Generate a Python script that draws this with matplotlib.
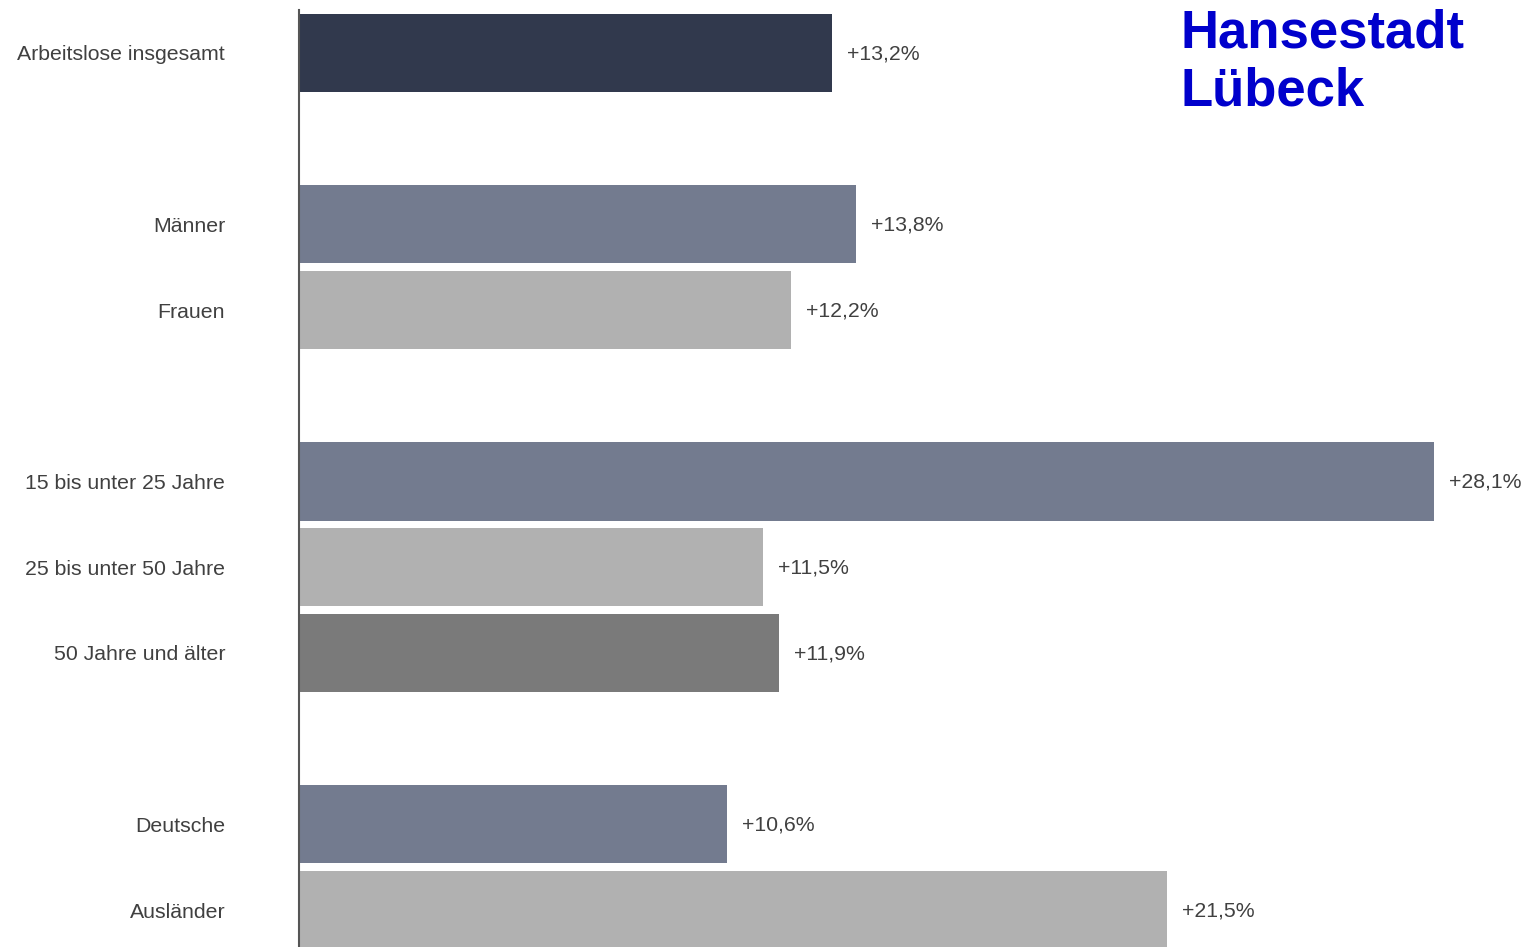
import matplotlib
matplotlib.use("Agg")
import matplotlib.pyplot as plt

categories = ["Arbeitslose insgesamt", "Männer", "Frauen",
              "15 bis unter 25 Jahre", "25 bis unter 50 Jahre", "50 Jahre und älter",
              "Deutsche", "Ausländer"]
values = [13.2, 13.8, 12.2, 28.1, 11.5, 11.9, 10.6, 21.5]
positions = [0, 2, 3, 5, 6, 7, 9, 10]
colors = ["#31394D", "#737B8F", "#B1B1B1", "#737B8F", "#B1B1B1", "#7A7A7A", "#737B8F", "#B1B1B1"]
value_labels = ["+13,2%", "+13,8%", "+12,2%", "+28,1%", "+11,5%", "+11,9%", "+10,6%", "+21,5%"]
title_lines = ["Hansestadt", "Lübeck"]

W, H = 1525, 947
plt.rcParams['font.family'] = ['Liberation Sans', 'DejaVu Sans']
fig = plt.figure(figsize=(W / 100, H / 100), dpi=100)
ax = fig.add_axes([298.7 / W, 0, 1 - 298.7 / W, (H - 10) / H])

ax.barh(positions, values, height=0.91, color=colors, zorder=2)
ax.set_xlim(0, (W - 298.7) / 40.39)
ax.set_ylim(10.43, -0.5)

for p, v, t in zip(positions, values, value_labels):
    ax.annotate(t, xy=(v, p), xytext=(10.8, -0.7), textcoords='offset points',
                ha='left', va='center', fontsize=15.3, color='#404040')

ax.set_yticks(positions)
ax.set_yticklabels(categories, fontsize=15.3, color='#404040')
ax.tick_params(axis='y', length=0, pad=53)
ax.set_xticks([])
for s in ['top', 'right', 'bottom']:
    ax.spines[s].set_visible(False)
ax.spines['left'].set_color('#555555')
ax.spines['left'].set_linewidth(1.5)
ax.spines['left'].set_zorder(3)

fig.text(1181 / W, 1 - 48 / H, title_lines[0], fontsize=38, fontweight='bold',
         color='#0000CC', ha='left', va='baseline')
fig.text(1181 / W, 1 - 106 / H, title_lines[1], fontsize=38, fontweight='bold',
         color='#0000CC', ha='left', va='baseline')

fig.savefig("out.png", dpi=100)
